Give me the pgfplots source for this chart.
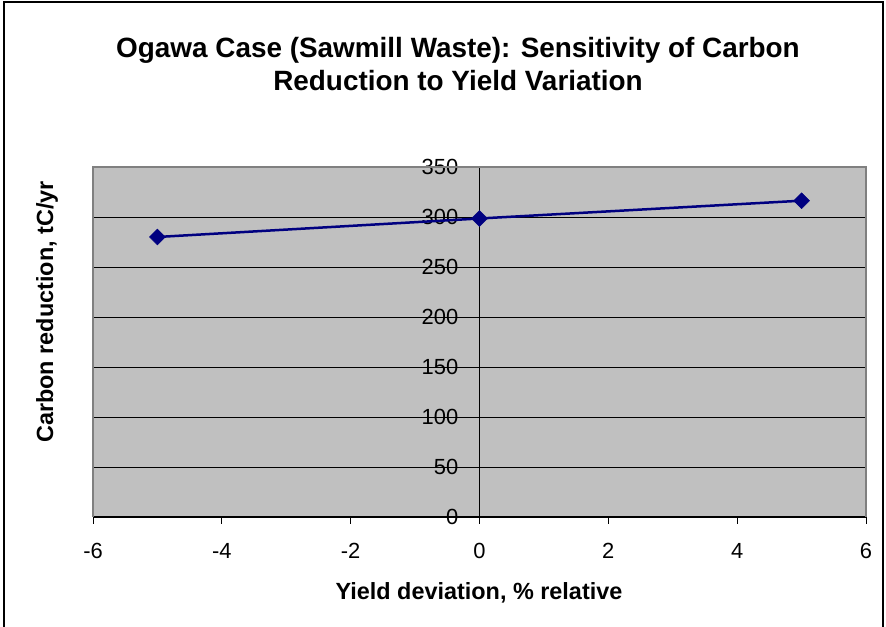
\documentclass[border=0pt]{standalone}
\usepackage{pgfplots}
\pgfplotsset{compat=1.18}
\usepackage{fontspec}
\setmainfont{Liberation Sans}
\definecolor{plotgray}{HTML}{C0C0C0}
\definecolor{bordergray}{HTML}{808080}
\definecolor{navyline}{HTML}{000080}
\newcommand{\tl}{\fontsize{22}{26}\selectfont}
\begin{document}
\begin{tikzpicture}[x=1bp,y=1bp]
\useasboundingbox (0,0) rectangle (886,627);
\draw[line width=1.5bp,black] (4,0) -- (4,625) -- (883,625) -- (883,0);
\node[align=center,font=\bfseries\fontsize{28}{34}\selectfont] at (458,563)
  {Ogawa Case (Sawmill Waste): Sensitivity of Carbon\\Reduction to Yield Variation};
\node[rotate=90,font=\bfseries\fontsize{23.5}{27}\selectfont] at (47,315) {Carbon reduction, tC/yr};
\node[font=\bfseries\fontsize{23.5}{27}\selectfont] at (479,34) {Yield deviation, \% relative};
\begin{axis}[
  at={(93bp,110bp)}, anchor=south west,
  scale only axis, width=773bp, height=350bp,
  xmin=-6, xmax=6, ymin=0, ymax=350,
  xtick={-6,-4,-2,0,2,4,6},
  xticklabels={{\tl -6},{\tl -4},{\tl -2},{\tl 0},{\tl 2},{\tl 4},{\tl 6}},
  ytick={0,50,100,150,200,250,300,350},
  yticklabels={{\tl 0},{\tl 50},{\tl 100},{\tl 150},{\tl 200},{\tl 250},{\tl 300},{\tl 350}},
  axis x line=bottom, axis y line=middle,
  axis line style={-},
  x axis line style={line width=1.2bp,black},
  y axis line style={line width=0.8bp,black},
  hide obscured x ticks=false, hide obscured y ticks=false,
  tick align=outside,
  major tick length=7bp,
  tick style={black,line width=0.8bp},
  ymajorgrids, grid style={black,line width=0.8bp},
  axis background/.style={fill=plotgray},
  xticklabel style={anchor=center,inner sep=0pt,yshift=-27bp,font=\tl},
  yticklabel style={anchor=east,inner sep=0pt,xshift=-14bp,font=\tl},
  clip=false,
]
\draw[bordergray,line width=1.5bp] (rel axis cs:0,0) -- (rel axis cs:0,1) -- (rel axis cs:1,1) -- (rel axis cs:1,0);
\addplot[navyline,line width=2.5bp,mark=square*,mark size=5.6bp,mark options={rotate=45,fill=navyline,draw=navyline,line width=0.5bp}]
  coordinates {(-5,280) (0,298.5) (5,316.3)};
\end{axis}
\end{tikzpicture}
\end{document}
